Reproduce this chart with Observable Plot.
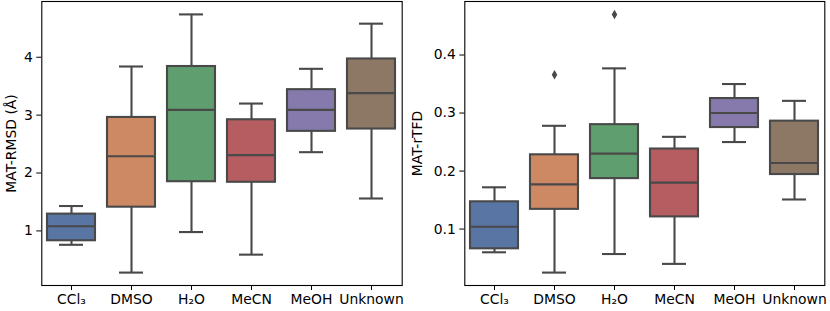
<!DOCTYPE html>
<html><head><meta charset="utf-8">
<script src="https://cdn.jsdelivr.net/npm/d3@7"></script>
<script src="https://cdn.jsdelivr.net/npm/@observablehq/plot@0.6"></script>
<style>
body{margin:0;background:#fff;}
#wrap{display:flex;width:830px;height:311px;overflow:hidden;}
#wrap svg{font-family:"DejaVu Sans";}
</style></head><body><div id="wrap"></div>
<script>
const solvents = ["CCl₃", "DMSO", "H₂O", "MeCN", "MeOH", "Unknown"];
const boxColors = ["#5875a4", "#cc8963", "#5f9e6e", "#b55d60", "#857aab", "#8d7866"];

// MAT-RMSD (Å)
const rmsdLow  = [0.76, 0.28, 0.98, 0.59, 2.36, 1.56];
const rmsdQ1   = [0.83, 1.41, 1.85, 1.84, 2.72, 2.76];
const rmsdMed  = [1.08, 2.29, 3.09, 2.31, 3.09, 3.38];
const rmsdQ3   = [1.29, 2.96, 3.84, 2.92, 3.44, 3.97];
const rmsdHigh = [1.43, 3.84, 4.74, 3.20, 3.80, 4.58];
const rmsdOutlierSolvents = [];
const rmsdOutlierValues = [];
const rmsdTicks = [1, 2, 3, 4];

// MAT-rTFD
const tfdLow  = [0.060, 0.025, 0.057, 0.040, 0.250, 0.151];
const tfdQ1   = [0.066, 0.134, 0.187, 0.121, 0.275, 0.194];
const tfdMed  = [0.104, 0.177, 0.230, 0.180, 0.300, 0.214];
const tfdQ3   = [0.147, 0.228, 0.280, 0.238, 0.325, 0.286];
const tfdHigh = [0.172, 0.278, 0.377, 0.259, 0.350, 0.321];
const tfdOutlierSolvents = ["DMSO", "H₂O"];
const tfdOutlierValues = [0.366, 0.470];
const tfdTicks = [0.1, 0.2, 0.3, 0.4];

const gray = "#494949";
const LW = 2.1;
const FS = 13.9;

function panel({low, q1, med, q3, high, outS, outV, ticks, fmt, label, width, marginLeft, marginRight, labelOffset}) {
  const rows = solvents.map((s, i) => ({solvent: s, low: low[i], q1: q1[i], med: med[i], q3: q3[i], high: high[i], color: boxColors[i]}));
  const outliers = outS.map((s, i) => ({solvent: s, value: outV[i]}));
  const all = [...low, ...high, ...outV];
  const mn = d3.min(all), mx = d3.max(all), pad = (mx - mn) * 0.05;
  return Plot.plot({
    width, height: 311,
    marginLeft, marginRight, marginTop: 1, marginBottom: 26,
    style: {fontFamily: "DejaVu Sans", fontSize: FS + "px", color: "black", background: "white", overflow: "visible"},
    x: {type: "band", domain: solvents, padding: 0},
    y: {domain: [mn - pad, mx + pad]},
    color: {type: "identity"},
    marks: [
      Plot.ruleX(rows, {x: "solvent", y1: "low", y2: "high", stroke: gray, strokeWidth: LW}),
      Plot.tickY(rows, {x: "solvent", y: "low", stroke: gray, strokeWidth: LW, insetLeft: 18, insetRight: 18}),
      Plot.tickY(rows, {x: "solvent", y: "high", stroke: gray, strokeWidth: LW, insetLeft: 18, insetRight: 18}),
      Plot.barY(rows, {x: "solvent", y1: "q1", y2: "q3", fill: "color", stroke: gray, strokeWidth: LW, insetLeft: 6, insetRight: 6}),
      Plot.tickY(rows, {x: "solvent", y: "med", stroke: gray, strokeWidth: LW, insetLeft: 6, insetRight: 6}),
      Plot.dot(outliers, {x: "solvent", y: "value", symbol: "diamond", r: 2.9, fill: gray, stroke: "none"}),
      Plot.frame({stroke: "black", strokeWidth: 1.1}),
      Plot.axisX({tickSize: 5, tickPadding: 4, label: null, stroke: "black", fontSize: FS}),
      Plot.axisY({ticks, tickFormat: fmt, tickSize: 5, tickPadding: 4, label, labelAnchor: "center", labelArrow: "none", labelOffset, stroke: "black", fontSize: FS})
    ]
  });
}

const wrap = document.getElementById("wrap");
wrap.appendChild(panel({low: rmsdLow, q1: rmsdQ1, med: rmsdMed, q3: rmsdQ3, high: rmsdHigh,
  outS: rmsdOutlierSolvents, outV: rmsdOutlierValues, ticks: rmsdTicks, fmt: d3.format("d"),
  label: "MAT-RMSD (Å)", width: 410, marginLeft: 41.3, marginRight: 8.3, labelOffset: 36}));
wrap.appendChild(panel({low: tfdLow, q1: tfdQ1, med: tfdMed, q3: tfdQ3, high: tfdHigh,
  outS: tfdOutlierSolvents, outV: tfdOutlierValues, ticks: tfdTicks, fmt: d3.format(".1f"),
  label: "MAT-rTFD", width: 420, marginLeft: 54.3, marginRight: 5.7, labelOffset: 52.6}));
</script></body></html>
